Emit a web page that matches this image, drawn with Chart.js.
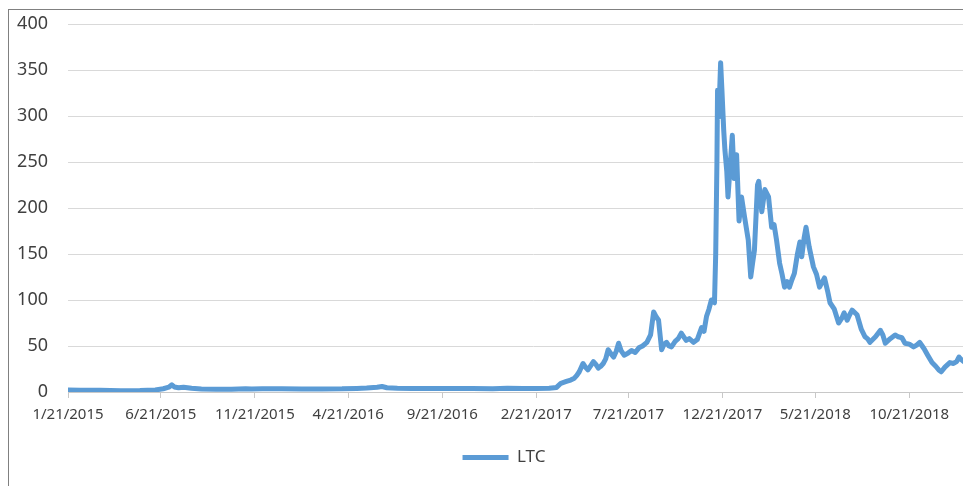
<!DOCTYPE html>
<html>
<head>
<meta charset="utf-8">
<script src="https://cdn.jsdelivr.net/npm/chart.js@4.4.1/dist/chart.umd.min.js"></script>
<style>
  html, body { margin: 0; padding: 0; background: #fff; overflow: hidden; }
  #frame {
    position: absolute; left: 8px; top: 9px;
    width: 1000px; height: 490px;
    border-left: 1px solid #808080; border-top: 1px solid #808080;
  }
  #myChart { position: absolute; left: 0; top: 0; }
</style>
</head>
<body>
<div id="frame"><canvas id="myChart" width="990" height="476"></canvas></div>
<script>
// LTC price
var dates = [
  "1/21/2015","2/10/2015","3/14/2015","4/17/2015","5/18/2015","6/12/2015","6/25/2015","7/4/2015",
  "7/9/2015","7/13/2015","7/20/2015","7/28/2015","8/10/2015","8/26/2015","9/19/2015","10/14/2015",
  "11/6/2015","11/16/2015","12/3/2015","1/4/2016","2/5/2016","3/9/2016","4/11/2016","5/5/2016",
  "5/21/2016","6/7/2016","6/15/2016","6/23/2016","7/10/2016","8/3/2016","9/5/2016","10/8/2016",
  "11/9/2016","12/12/2016","1/5/2017","1/30/2017","2/21/2017","3/14/2017","3/26/2017","4/2/2017",
  "4/11/2017","4/18/2017","4/24/2017","4/28/2017","5/2/2017","5/8/2017","5/12/2017","5/16/2017",
  "5/21/2017","5/25/2017","5/29/2017","6/2/2017","6/6/2017","6/10/2017","6/14/2017","6/18/2017",
  "6/22/2017","6/27/2017","7/1/2017","7/5/2017","7/9/2017","7/14/2017","7/20/2017","7/26/2017",
  "8/1/2017","8/7/2017","8/13/2017","8/20/2017","8/26/2017","8/31/2017","9/4/2017","9/8/2017",
  "9/13/2017","9/17/2017","9/21/2017","9/25/2017","9/29/2017","10/5/2017","10/10/2017","10/15/2017",
  "10/19/2017","10/23/2017","10/28/2017","11/4/2017","11/10/2017","11/17/2017","11/21/2017","11/25/2017",
  "11/29/2017","12/3/2017","12/8/2017","12/10/2017","12/12/2017","12/13/2017","12/15/2017","12/18/2017",
  "12/20/2017","12/23/2017","12/25/2017","12/28/2017","12/30/2017","1/3/2018","1/6/2018","1/9/2018",
  "1/13/2018","1/17/2018","1/21/2018","1/26/2018","2/1/2018","2/5/2018","2/8/2018","2/11/2018",
  "2/16/2018","2/18/2018","2/23/2018","2/28/2018","3/6/2018","3/11/2018","3/15/2018","3/19/2018",
  "3/24/2018","3/28/2018","4/1/2018","4/5/2018","4/9/2018","4/13/2018","4/17/2018","4/22/2018",
  "4/26/2018","4/29/2018","5/3/2018","5/6/2018","5/11/2018","5/18/2018","5/23/2018","5/28/2018",
  "6/5/2018","6/10/2018","6/14/2018","6/21/2018","6/28/2018","7/3/2018","7/7/2018","7/12/2018",
  "7/16/2018","7/20/2018","7/28/2018","8/4/2018","8/10/2018","8/14/2018","8/18/2018","8/27/2018",
  "9/4/2018","9/8/2018","9/12/2018","9/20/2018","9/28/2018","10/3/2018","10/9/2018","10/14/2018",
  "10/21/2018","10/28/2018","11/2/2018","11/7/2018","11/11/2018","11/15/2018","11/20/2018","11/27/2018",
  "12/3/2018","12/8/2018","12/12/2018","12/18/2018","12/26/2018","1/1/2019","1/6/2019","1/10/2019",
  "1/14/2019","1/18/2019"
];
var ltc = [
  2.3,2.0,1.9,1.4,1.6,2.2,3.5,5.2,
  7.8,5.5,4.6,5.2,4.0,3.2,2.9,3.0,
  3.6,3.2,3.6,3.4,3.2,3.3,3.4,3.9,
  4.4,5.2,6.0,4.6,4.1,3.8,3.7,3.8,
  3.7,3.6,4.2,3.8,3.8,4.0,5.0,9.5,
  11.5,13,15,18,22,31,27,24,
  29,33,30,26,28,31,36,46,
  42,38,44,53,45,40,42,45,
  43,48,50,54,62,87,82,78,
  46,52,54,50,49,55,58,64,
  60,56,58,54,57,70,66,82,
  90,100,97,150,250,328,299,358,
  330,285,263,240,212,250,279,232,
  258,186,212,190,165,125,140,154,
  225,229,196,220,212,179,182,165,
  140,128,114,120,114,122,129,150,
  163,147,168,179,158,136,128,114,
  124,110,97,90,75,80,86,78,
  84,89,84,68,60,58,54,60,
  67,62,53,58,62,60,59,53,
  52,49,51,54,50,46,40,32,
  28,24,22,27,32,31,33,38,
  35,33
];
var tickLabels = ["1/21/2015","6/21/2015","11/21/2015","4/21/2016","9/21/2016",
  "2/21/2017","7/21/2017","12/21/2017","5/21/2018","10/21/2018"];
var yTicks = [0, 50, 100, 150, 200, 250, 300, 350, 400];
var xEnd = "3/16/2019";

// days since the first date
function dayOf(s) {
  var p = s.split("/");
  return Math.round((Date.UTC(+p[2], +p[0] - 1, +p[1]) - Date.UTC(2015, 0, 21)) / 86400000);
}

var points = dates.map(function(d, i) { return {x: dayOf(d), y: ltc[i]}; });
var tickDays = tickLabels.map(dayOf);

var ctx = document.getElementById("myChart");
var myChart = new Chart(ctx, {
  type: 'line',
  data: {
    datasets: [{
      label: "LTC",
      data: points,
      borderColor: '#5B9BD5',
      backgroundColor: '#5B9BD5',
      borderWidth: 5,
      borderJoinStyle: 'round',
      borderCapStyle: 'round',
      pointRadius: 0,
      tension: 0,
      fill: false
    }]
  },
  options: {
    responsive: false,
    animation: false,
    layout: { padding: { top: 14, bottom: 10, left: 0, right: 0 } },
    scales: {
      x: {
        type: 'linear',
        min: 0,
        max: dayOf(xEnd),
        afterBuildTicks: function(scale) {
          scale.ticks = tickDays.map(function(v) { return {value: v}; });
        },
        afterFit: function(scale) { scale.height = 47; },
        grid: { drawOnChartArea: false, drawTicks: true, tickLength: 6, color: '#c8c8c8' },
        border: { color: '#c8c8c8' },
        ticks: {
          autoSkip: false,
          maxRotation: 0,
          padding: 8,
          color: '#404040',
          font: { family: 'Noto Sans', size: 15 },
          callback: function(v) {
            var i = tickDays.indexOf(v);
            return i < 0 ? '' : tickLabels[i];
          }
        }
      },
      y: {
        min: 0,
        max: 400,
        afterBuildTicks: function(scale) {
          scale.ticks = yTicks.map(function(v) { return {value: v}; });
        },
        // the tick padding is meant for the gap to the left only
        afterFit: function(scale) {
          scale.width = 59;
          scale.paddingTop = 0;
          scale.paddingBottom = 0;
        },
        grid: { color: '#d9d9d9', drawTicks: false },
        border: { display: false },
        ticks: {
          padding: 20,
          color: '#404040',
          font: { family: 'Noto Sans', size: 18 }
        }
      }
    },
    plugins: {
      tooltip: { enabled: false },
      legend: {
        position: 'bottom',
        labels: {
          boxWidth: 46,
          boxHeight: 5,
          padding: 10,
          color: '#404040',
          font: { family: 'Noto Sans', size: 17 },
          generateLabels: function(chart) {
            return Chart.defaults.plugins.legend.labels.generateLabels(chart).map(function(l) {
              l.lineWidth = 0;
              return l;
            });
          }
        }
      }
    }
  }
});
</script>
</body>
</html>
